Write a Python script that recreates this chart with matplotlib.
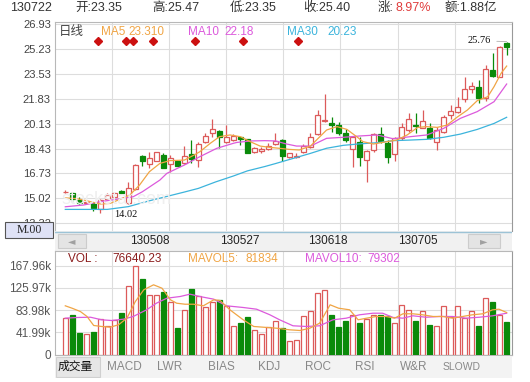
import numpy as np
import matplotlib
matplotlib.use('Agg')
import matplotlib.pyplot as plt
from matplotlib.patches import Rectangle
import matplotlib.transforms as mtransforms

plt.rcParams['font.family'] = ['Liberation Sans', 'Noto Sans CJK SC', 'DejaVu Sans']

# daily candles (64 sessions)
opens = [15.42, 15.36, 14.90, 14.68, 14.67, 14.30, 14.95, 15.13, 15.54, 14.70,
         15.63, 17.92, 17.37, 17.60, 17.99, 17.35, 17.60, 17.41, 18.03, 17.64,
         18.90, 19.50, 19.60, 18.90, 19.03, 19.20, 19.06, 18.21, 18.28, 18.40,
         18.72, 19.01, 17.82, 17.85, 18.21, 18.56, 19.42, 20.30, 20.18, 20.02,
         19.47, 18.37, 18.85, 17.64, 18.33, 19.42, 18.78, 18.05, 19.13, 19.70,
         20.06, 19.85, 19.86, 18.90, 19.58, 20.73, 20.95, 21.80, 22.49, 22.67,
         21.87, 23.81, 23.35, 25.68]
highs = [15.58, 15.45, 15.10, 14.80, 14.78, 15.00, 15.35, 15.45, 15.60, 16.15,
         17.35, 18.00, 18.21, 18.22, 18.10, 17.99, 17.65, 18.60, 19.01, 18.90,
         19.50, 20.43, 19.70, 20.04, 19.45, 19.22, 19.10, 18.55, 18.55, 18.78,
         19.52, 19.10, 18.15, 18.15, 18.75, 19.47, 21.07, 22.17, 20.61, 20.27,
         19.80, 19.30, 19.24, 18.33, 19.52, 19.88, 19.01, 19.24, 20.15, 20.84,
         20.89, 21.07, 20.20, 19.93, 20.73, 21.41, 21.98, 23.35, 23.01, 23.13,
         24.15, 24.95, 25.47, 25.76]
lows = [15.38, 14.80, 14.62, 14.62, 14.15, 14.02, 14.90, 15.05, 15.33, 14.65,
        15.60, 17.20, 17.07, 17.55, 17.07, 16.84, 17.20, 17.35, 17.41, 17.19,
        18.78, 19.24, 18.44, 18.78, 18.95, 18.67, 18.10, 18.15, 18.12, 18.33,
        18.70, 17.60, 17.78, 17.80, 18.15, 18.44, 19.36, 20.22, 19.55, 19.36,
        18.85, 17.16, 17.23, 16.16, 18.21, 18.78, 17.41, 17.60, 19.01, 19.58,
        19.50, 19.81, 19.10, 18.33, 19.52, 20.43, 20.89, 21.64, 22.21, 21.57,
        21.71, 23.35, 23.35, 24.84]
closes = [15.48, 14.95, 14.72, 14.74, 14.33, 14.92, 15.24, 15.36, 15.36, 15.70,
          17.30, 17.60, 17.76, 18.17, 17.12, 17.76, 17.25, 17.94, 17.69, 18.72,
          19.29, 19.78, 19.20, 19.22, 19.28, 19.06, 18.15, 18.49, 18.37, 18.63,
          18.97, 17.90, 18.10, 17.92, 18.62, 19.20, 20.70, 20.38, 20.03, 19.52,
          19.04, 19.24, 17.87, 18.26, 19.40, 18.97, 17.83, 19.17, 19.88, 20.43,
          19.99, 20.30, 19.13, 19.70, 20.61, 21.02, 21.30, 22.49, 22.71, 21.87,
          23.86, 23.40, 25.40, 25.40]
# volume in thousands
volumes = [68.7, 75.1, 41.6, 39.2, 43.5, 67.5, 54.3, 65.6, 79.4, 129.9,
           167.8, 143.2, 112.9, 112.9, 117.3, 98.4, 49.7, 84.5, 124.8, 111.0,
           88.9, 98.4, 103.5, 92.1, 53.0, 59.2, 70.5, 45.4, 39.2, 51.1,
           64.3, 49.7, 24.6, 26.5, 71.9, 83.2, 115.9, 122.4, 75.1, 51.6,
           64.3, 75.1, 59.2, 66.8, 75.1, 73.8, 73.2, 59.2, 94.0, 84.5,
           64.3, 82.7, 56.2, 54.3, 90.8, 70.0, 92.1, 68.7, 83.2, 53.0,
           106.5, 98.4, 75.1, 62.4]

# moving average lines (session index, value)
ma5_x = [0, 1.6, 3, 5, 6.4, 7.8, 9.2, 10.6, 12, 13.5, 14.9, 17, 18.4, 19.2, 20.7, 22, 23.5,
         25, 26.4, 27.8, 29.2, 30.7, 32, 33.4, 35, 36.1, 37.3, 38.8, 40.2, 41.6, 42.5, 44,
         45.9, 47.3, 48.8, 50.3, 51.6, 53.1, 54.5, 55.9, 57.4, 58.8, 60.3, 61.2, 62.2, 63]
ma5_y = [15.05, 15.0, 14.86, 14.63, 14.67, 14.95, 15.24, 15.93, 16.84, 17.41, 17.60, 17.64,
         17.99, 18.21, 18.79, 19.24, 19.36, 19.24, 18.90, 18.60, 18.51, 18.44, 18.37, 18.33,
         18.60, 19.13, 19.70, 19.93, 19.74, 19.24, 18.90, 18.74, 18.90, 19.01, 19.36, 19.88,
         19.93, 19.88, 20.04, 20.57, 21.07, 21.71, 21.98, 22.67, 23.58, 24.08]
ma10_x = [0, 2.6, 5, 7.3, 9.7, 11, 13.5, 14.5, 17, 19.2, 21.6, 24, 24.5, 26.5, 28.5, 30,
          31.5, 33, 35, 37.3, 39.7, 42, 44.5, 46.8, 49.2, 51.6, 54, 56.4, 58.8, 61.2, 63]
ma10_y = [14.44, 14.56, 14.79, 14.95, 15.13, 15.47, 16.27, 16.73, 17.30, 17.87, 18.44,
          18.79, 18.85, 18.95, 18.97, 18.95, 18.75, 18.60, 18.60, 19.13, 19.20, 19.29,
          19.36, 19.10, 19.24, 19.36, 19.81, 20.50, 20.96, 21.64, 22.85]
ma30_x = [0, 6, 9, 12, 14.5, 17, 19, 21.5, 24, 26, 28.5, 30, 32.5, 35, 37.3, 39.7, 42,
          44.5, 46.8, 49.2, 51.6, 54, 56.4, 58.8, 61.2, 63]
ma30_y = [14.26, 14.26, 14.45, 14.85, 15.15, 15.45, 15.70, 16.15, 16.55, 16.90, 17.20,
          17.40, 17.75, 18.10, 18.45, 18.65, 18.75, 18.83, 18.97, 19.01, 19.06, 19.20,
          19.42, 19.74, 20.15, 20.57]
mavol5_x = [0, 0.96, 2.15, 3.1, 4.05, 5.2, 6.4, 7.6, 8.8, 10, 11.2, 12.6, 13.8, 15, 15.9,
            17.1, 18.3, 19.7, 21.2, 22.1, 23.5, 25.4, 26.9, 28.3, 30.2, 32, 33.5, 34.9,
            36.3, 37.8, 39, 40.6, 41.8, 43, 44.4, 45.8, 47, 48.2, 49.6, 51, 52.5, 53.9,
            55.3, 56.7, 58.1, 59.6, 61, 61.9, 63]
mavol5_y = [92.1, 87.6, 81.3, 71.9, 54.9, 53.0, 51.6, 56.2, 68.7, 100.2, 122.4, 131.8,
            125.4, 103.5, 97.0, 95.1, 95.1, 92.1, 103.5, 102.1, 84.5, 65.6, 53.0, 51.6,
            49.7, 46.7, 45.4, 49.7, 59.2, 94.0, 87.6, 84.5, 65.6, 68.7, 71.9, 71.9, 68.7,
            77.0, 77.0, 75.1, 71.9, 71.9, 68.7, 71.9, 75.1, 77.0, 84.5, 85.7, 79.4]
mavol10_x = [0, 1.7, 3.6, 5.2, 6.6, 8.3, 9.7, 11.6, 13, 14.5, 16.4, 17.8, 19.2, 21.2, 23,
             25.4, 27.3, 29.2, 30.6, 32.5, 34.4, 36.3, 38.2, 40.1, 42, 43.9, 45.3, 46.8,
             48.2, 49.6, 51.5, 53.4, 55.3, 57.2, 59.1, 61, 63]
mavol10_y = [68.7, 70.0, 70.5, 65.6, 64.3, 66.8, 71.9, 84.5, 97.0, 106.5, 109.7, 114.1,
             109.7, 104.6, 92.1, 88.9, 85.7, 75.1, 65.6, 54.3, 53.0, 54.3, 65.6, 68.7,
             75.1, 78.1, 78.1, 70.0, 68.7, 73.2, 70.5, 71.9, 71.9, 68.7, 70.5, 73.2, 78.1]

# red diamond markers (session index)
marker_x = [4.7, 8.6, 9.6, 12.55, 18.5, 25.4, 33.2]

price_ticks = [26.93, 25.23, 23.53, 21.83, 20.13, 18.43, 16.73, 15.02, 13.32]
vol_ticks = [0, 41.99, 83.98, 125.97, 167.96]
vol_tick_labels = ['0', '41.99k', '83.98k', '125.97k', '167.96k']
nav_dates = ['130508', '130527', '130618', '130705']
nav_pos = [150, 240, 328, 418]
tabs = ['MACD', 'LWR', 'BIAS', 'KDJ', 'ROC', 'RSI', 'W&R', 'SLOWD']
tab_pos = [107, 157, 208, 258, 305, 355, 400, 443]

RED = '#dc5a5a'
GREEN = '#0a8a0a'
C_MA5 = '#f0a545'
C_MA10 = '#dc5adc'
C_MA30 = '#3cb4dc'
GRID = '#dddddd'
W, H = 530, 382

fig = plt.figure(figsize=(W / 100, H / 100), dpi=100)


def fx(px):
    return px / W


def fy(py):
    return 1 - py / H


def ftext(x, y, s, **kw):
    fig.text(fx(x), fy(y), s, va='center', **kw)


L, R = 55, 511.7
n = len(closes)
x = np.arange(n)
xlim = (-1.47, 63.72)

# ---- price panel
ax = fig.add_axes([fx(L), fy(231), fx(R - L), (231 - 22) / H])
ax.set_xlim(*xlim)
ax.set_ylim(12.78, 27.10)
ax.set_yticks(price_ticks)
ax.set_yticklabels(['%.2f' % t for t in price_ticks])
ax.set_xticks([])
ax.tick_params(axis='y', length=0, pad=3, labelsize=8, labelcolor='#444444')
ax.grid(axis='y', color=GRID, lw=0.8)
for k in range(1, 8):
    ax.axvline(xlim[0] + k * (xlim[1] - xlim[0]) / 8, color=GRID, lw=0.8, zorder=0)
for s in ['left', 'top', 'right']:
    ax.spines[s].set_color('#b8b8b8')
ax.spines['right'].set_color('#999999')
ax.spines['bottom'].set_visible(False)

o = np.array(opens)
c = np.array(closes)
up = c >= o
cols = np.where(up, RED, GREEN)
ax.vlines(x, lows, highs, colors=cols, lw=0.9, zorder=2)
ax.bar(x, np.maximum(np.abs(c - o), 0.05), bottom=np.minimum(o, c), width=0.68,
       color=np.where(up, 'white', GREEN), edgecolor=cols, linewidth=0.9, zorder=3)

ax.plot(ma30_x, ma30_y, color=C_MA30, lw=0.9, zorder=4)
ax.plot(ma10_x, ma10_y, color=C_MA10, lw=0.9, zorder=4)
ax.plot(ma5_x, ma5_y, color=C_MA5, lw=0.9, zorder=4)

trans = mtransforms.blended_transform_factory(ax.transData, ax.transAxes)
ax.plot(marker_x, [0.909] * len(marker_x), 'D', color='#cc1111', ms=4, transform=trans,
        clip_on=False)

# faint watermark
ftext(62, 199, 'stockstar.com', fontsize=13, color='#efefef', zorder=0.5)

imax = int(np.argmax(highs))
imin = int(np.argmin(lows))
ax.annotate('%.2f' % highs[imax], xy=(imax, highs[imax]), xytext=(-19.5, 0.5),
            textcoords='offset points', ha='center', va='center', fontsize=7.5,
            family='Liberation Serif', color='#111111',
            arrowprops=dict(arrowstyle='-', color='#b0b0b0', lw=0.6, shrinkA=2, shrinkB=0))
ax.annotate('%.2f' % lows[imin], xy=(imin, lows[imin]), xytext=(18.5, -1.0),
            textcoords='offset points', ha='center', va='center', fontsize=7.5,
            family='Liberation Serif', color='#111111')

ftext(59, 32, '日线', fontsize=9, color='#444444')
ftext(101, 32, 'MA5', fontsize=8.5, color=C_MA5)
ftext(128, 32, '23.310', fontsize=8.5, color=C_MA5)
ftext(188, 32, 'MA10', fontsize=8.5, color=C_MA10)
ftext(224, 32, '22.18', fontsize=8.5, color=C_MA10)
ftext(287, 32, 'MA30', fontsize=8.5, color=C_MA30)
ftext(327, 32, '20.23', fontsize=8.5, color=C_MA30)

# ---- header
hdr = [(10, '130722'), (75, '开:23.35'), (152, '高:25.47'), (230, '低:23.35'),
       (303, '收:25.40'), (378, '涨:'), (445, '额:1.88亿')]
for hx, s in hdr:
    ftext(hx, 8, s, fontsize=9, color='#333333')
ftext(396, 8, '8.97%', fontsize=9, color='#e03c3c')

# ---- navigation strip
nav = fig.add_axes([fx(L), fy(251), fx(R - L), 20 / H])
nav.set_xlim(L, R)
nav.set_ylim(251, 231)
nav.set_facecolor('#f1f1f1')
nav.set_xticks([])
nav.set_yticks([])
for s in nav.spines.values():
    s.set_visible(False)
nav.axhline(231.5, color='#9cc3d6', lw=1.0)
nav.add_patch(Rectangle((58, 234), 28, 14, facecolor='#e4e4e4', edgecolor='#cccccc', lw=0.8))
nav.add_patch(Rectangle((468, 234), 32, 14, facecolor='#e4e4e4', edgecolor='#cccccc', lw=0.8))
nav.text(72, 241, '◄', ha='center', va='center', fontsize=7, color='#a0a0a0',
         family='DejaVu Sans')
nav.text(484, 241, '►', ha='center', va='center', fontsize=7, color='#a0a0a0',
         family='DejaVu Sans')
for px, d in zip(nav_pos, nav_dates):
    nav.text(px, 241, d, ha='center', va='center', fontsize=8.5, color='#222222')

# ---- M.00 box
fig.patches.append(Rectangle((fx(5), fy(238)), fx(48), 16 / H, transform=fig.transFigure,
                             facecolor='#dfe2f6', edgecolor='#555555', lw=0.8))
ftext(29, 230, 'M.00', fontsize=8.5, ha='center', family='Liberation Serif', color='#222222')

# ---- volume panel
axv = fig.add_axes([fx(L), fy(354.5), fx(R - L), (354.5 - 251) / H])
axv.set_xlim(*xlim)
axv.set_ylim(0, (354.5 - 251) * 1.8914)
axv.set_yticks(vol_ticks)
axv.set_yticklabels(vol_tick_labels)
axv.set_xticks([])
axv.tick_params(axis='y', length=0, pad=3, labelsize=8.5, labelcolor='#555555')
axv.grid(axis='y', color=GRID, lw=0.8)
for k in range(1, 8):
    axv.axvline(xlim[0] + k * (xlim[1] - xlim[0]) / 8, color=GRID, lw=0.8, zorder=0)
for s in axv.spines.values():
    s.set_color('#b8b8b8')
axv.spines['right'].set_color('#999999')

axv.bar(x, volumes, width=0.68, color=np.where(up, 'white', GREEN), edgecolor=cols,
        linewidth=0.9, zorder=3)
axv.plot(mavol10_x, mavol10_y, color=C_MA10, lw=0.9, zorder=4)
axv.plot(mavol5_x, mavol5_y, color=C_MA5, lw=0.9, zorder=4)

ftext(68, 259, 'VOL :', fontsize=8.5, color='#8b1c1c')
ftext(112, 259, '76640.23', fontsize=8.5, color='#8b1c1c')
ftext(188, 259, 'MAVOL5:', fontsize=8.5, color=C_MA5)
ftext(245, 259, '81834', fontsize=8.5, color=C_MA5)
ftext(305, 259, 'MAVOL10:', fontsize=8.5, color=C_MA10)
ftext(367, 259, '79302', fontsize=8.5, color=C_MA10)

# ---- indicator tabs
tab = fig.add_axes([fx(L), fy(378), fx(R - L), 22 / H])
tab.set_xlim(L, R)
tab.set_ylim(378, 356)
tab.set_facecolor('#f3f3f3')
tab.set_xticks([])
tab.set_yticks([])
for s in tab.spines.values():
    s.set_visible(False)
tab.add_patch(Rectangle((56, 357), 44, 20, facecolor='#e6e6e6', edgecolor='#d0d0d0', lw=0.8))
tab.text(58, 367, '成交量', va='center', fontsize=8.5, color='#111111')
for px, t in zip(tab_pos, tabs):
    tab.text(px, 367, t, va='center', fontsize=7.5 if t == 'SLOWD' else 8.5, color='#888888')

plt.savefig('out.png', dpi=100)
